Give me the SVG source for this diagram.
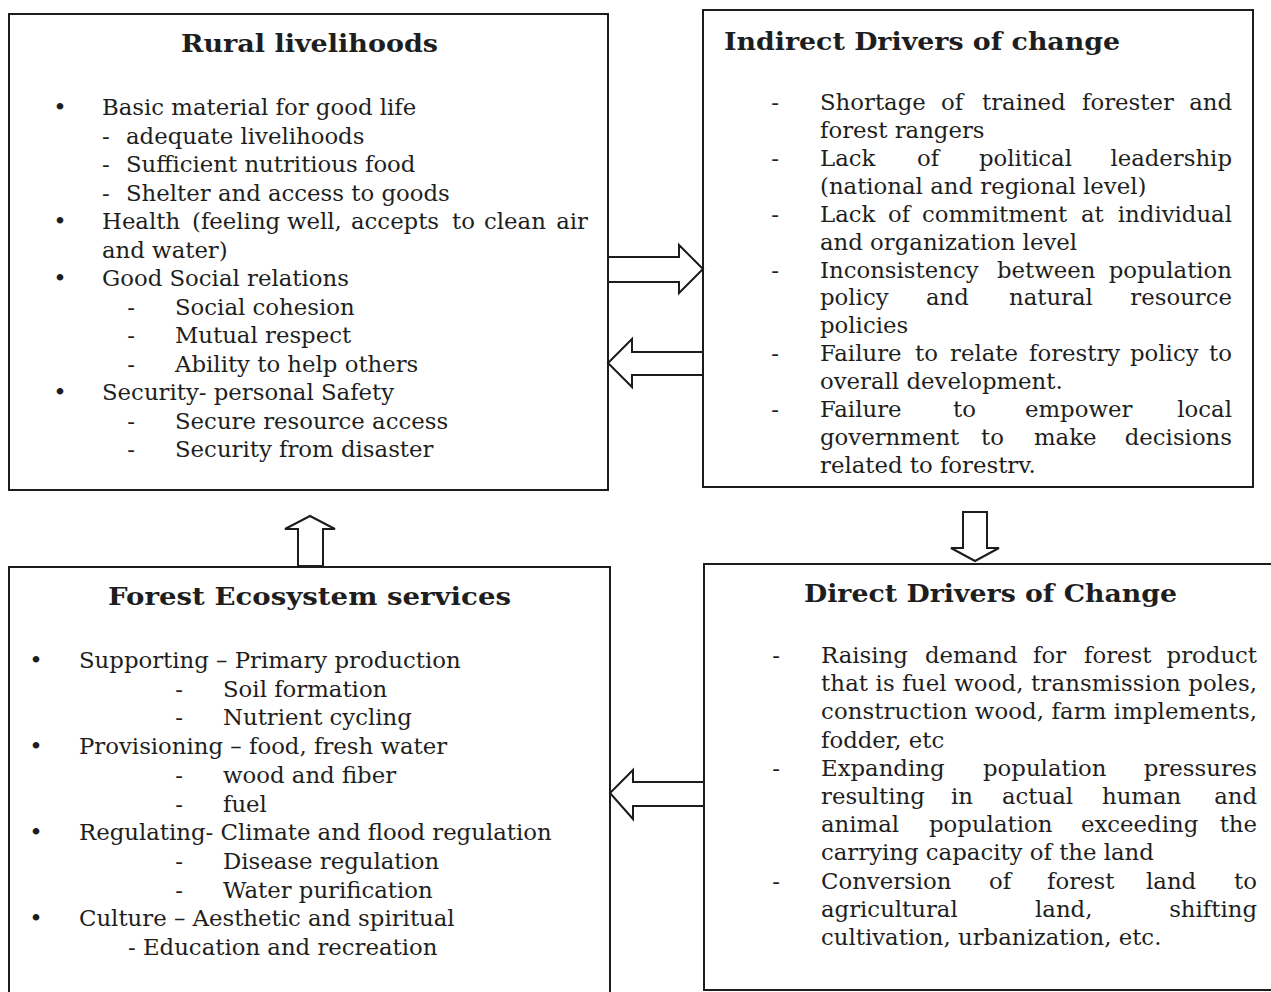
<svg xmlns="http://www.w3.org/2000/svg" width="1271" height="992" viewBox="0 0 1271 992">
<style>
.box{fill:#fff;stroke:#1c1c1c;stroke-width:2}
.arrow{fill:#fff;stroke:#1c1c1c;stroke-width:2;stroke-linejoin:miter}
text{font-family:"DejaVu Serif","Liberation Serif",serif;fill:#1e1e1e}
.t{font-size:22.8px}
.h{font-size:25px;font-weight:bold}
.m{text-anchor:middle}
.e{text-anchor:end}
</style>
<rect width="1271" height="992" fill="#fff"/>

<g id="rural-livelihoods">
<rect class="box" x="9" y="14" width="599" height="476"/>
<text class="h" x="181" y="52" textLength="257" lengthAdjust="spacingAndGlyphs">Rural livelihoods</text>
<text class="t m" x="60" y="115">•</text>
<text class="t" x="102" y="115">Basic material for good life</text>
<text class="t" x="102" y="143.5">-</text><text class="t" x="126" y="143.5">adequate livelihoods</text>
<text class="t" x="102" y="172">-</text><text class="t" x="126" y="172">Sufficient nutritious food</text>
<text class="t" x="102" y="200.5">-</text><text class="t" x="126" y="200.5">Shelter and access to goods</text>
<text class="t m" x="60" y="229">•</text>
<text class="t" y="229"><tspan x="102">Health</tspan><tspan x="192">(feeling</tspan><tspan x="287">well,</tspan><tspan x="351">accepts</tspan><tspan x="452">to</tspan><tspan x="484">clean</tspan></text>
<text class="t e" x="588" y="229">air</text>
<text class="t" x="102" y="257.5">and water)</text>
<text class="t m" x="60" y="286">•</text>
<text class="t" x="102" y="286">Good Social relations</text>
<text class="t m" x="131" y="314.5">-</text><text class="t" x="175" y="314.5">Social cohesion</text>
<text class="t m" x="131" y="343">-</text><text class="t" x="175" y="343">Mutual respect</text>
<text class="t m" x="131" y="371.5">-</text><text class="t" x="175" y="371.5">Ability to help others</text>
<text class="t m" x="60" y="400">•</text>
<text class="t" x="102" y="400">Security- personal Safety</text>
<text class="t m" x="131" y="428.5">-</text><text class="t" x="175" y="428.5">Secure resource access</text>
<text class="t m" x="131" y="457">-</text><text class="t" x="175" y="457">Security from disaster</text>
</g>

<g id="indirect-drivers">
<rect class="box" x="703" y="10" width="550" height="477"/>
<text class="h" x="724" y="50" textLength="396" lengthAdjust="spacingAndGlyphs">Indirect Drivers of change</text>
<text class="t m" x="775" y="110">-</text>
<text class="t" y="110"><tspan x="820">Shortage</tspan><tspan x="941">of</tspan><tspan x="982">trained</tspan><tspan x="1082">forester</tspan></text>
<text class="t e" x="1232" y="110">and</text>
<text class="t" x="820" y="137.9">forest rangers</text>
<text class="t m" x="775" y="165.8">-</text>
<text class="t" y="165.8"><tspan x="820">Lack</tspan><tspan x="917">of</tspan><tspan x="979">political</tspan></text>
<text class="t e" x="1232" y="165.8">leadership</text>
<text class="t" x="820" y="193.8">(national and regional level)</text>
<text class="t m" x="775" y="221.7">-</text>
<text class="t" y="221.7"><tspan x="820">Lack</tspan><tspan x="888">of</tspan><tspan x="922">commitment</tspan><tspan x="1081">at</tspan></text>
<text class="t e" x="1232" y="221.7">individual</text>
<text class="t" x="820" y="249.6">and organization level</text>
<text class="t m" x="775" y="277.5">-</text>
<text class="t" y="277.5"><tspan x="820">Inconsistency</tspan><tspan x="997">between</tspan></text>
<text class="t e" x="1232" y="277.5">population</text>
<text class="t" y="305.4"><tspan x="820">policy</tspan><tspan x="926">and</tspan><tspan x="1009">natural</tspan></text>
<text class="t e" x="1232" y="305.4">resource</text>
<text class="t" x="820" y="333.4">policies</text>
<text class="t m" x="775" y="361.3">-</text>
<text class="t" y="361.3"><tspan x="820">Failure</tspan><tspan x="915">to</tspan><tspan x="950">relate</tspan><tspan x="1029">forestry</tspan><tspan x="1130">policy</tspan></text>
<text class="t e" x="1232" y="361.3">to</text>
<text class="t" x="820" y="389.2">overall development.</text>
<text class="t m" x="775" y="417.1">-</text>
<text class="t" y="417.1"><tspan x="820">Failure</tspan><tspan x="953">to</tspan><tspan x="1025">empower</tspan></text>
<text class="t e" x="1232" y="417.1">local</text>
<text class="t" y="445"><tspan x="820">government</tspan><tspan x="981">to</tspan><tspan x="1034">make</tspan></text>
<text class="t e" x="1232" y="445">decisions</text>
<text class="t" x="820" y="473">related to forestrv.</text>
</g>

<g id="forest-ecosystem-services">
<rect class="box" x="9" y="567" width="601" height="432"/>
<text class="h" x="108" y="605" textLength="403" lengthAdjust="spacingAndGlyphs">Forest Ecosystem services</text>
<text class="t m" x="36" y="668">•</text>
<text class="t" x="79" y="668">Supporting – Primary production</text>
<text class="t m" x="179" y="696.7">-</text><text class="t" x="223" y="696.7">Soil formation</text>
<text class="t m" x="179" y="725.4">-</text><text class="t" x="223" y="725.4">Nutrient cycling</text>
<text class="t m" x="36" y="754.1">•</text>
<text class="t" x="79" y="754.1">Provisioning – food, fresh water</text>
<text class="t m" x="179" y="782.8">-</text><text class="t" x="223" y="782.8">wood and fiber</text>
<text class="t m" x="179" y="811.5">-</text><text class="t" x="223" y="811.5">fuel</text>
<text class="t m" x="36" y="840.2">•</text>
<text class="t" x="79" y="840.2">Regulating- Climate and flood regulation</text>
<text class="t m" x="179" y="868.9">-</text><text class="t" x="223" y="868.9">Disease regulation</text>
<text class="t m" x="179" y="897.6">-</text><text class="t" x="223" y="897.6">Water purification</text>
<text class="t m" x="36" y="926.3">•</text>
<text class="t" x="79" y="926.3">Culture – Aesthetic and spiritual</text>
<text class="t" x="128" y="955">- Education and recreation</text>
</g>

<g id="direct-drivers">
<rect class="box" x="704" y="564" width="580" height="426"/>
<text class="h" x="804" y="602" textLength="373" lengthAdjust="spacingAndGlyphs">Direct Drivers of Change</text>
<text class="t m" x="776" y="663">-</text>
<text class="t" y="663"><tspan x="821">Raising</tspan><tspan x="925">demand</tspan><tspan x="1033">for</tspan><tspan x="1084">forest</tspan></text>
<text class="t e" x="1257" y="663">product</text>
<text class="t" x="821" y="691.2" textLength="436" lengthAdjust="spacing">that is fuel wood, transmission poles,</text>
<text class="t" x="821" y="719.4" textLength="436" lengthAdjust="spacing">construction wood, farm implements,</text>
<text class="t" x="821" y="747.6">fodder, etc</text>
<text class="t m" x="776" y="775.8">-</text>
<text class="t" y="775.8"><tspan x="821">Expanding</tspan><tspan x="983">population</tspan></text>
<text class="t e" x="1257" y="775.8">pressures</text>
<text class="t" y="804"><tspan x="821">resulting</tspan><tspan x="951">in</tspan><tspan x="1002">actual</tspan><tspan x="1102">human</tspan></text>
<text class="t e" x="1257" y="804">and</text>
<text class="t" y="832.2"><tspan x="821">animal</tspan><tspan x="929">population</tspan><tspan x="1081">exceeding</tspan></text>
<text class="t e" x="1257" y="832.2">the</text>
<text class="t" x="821" y="860.4">carrying capacity of the land</text>
<text class="t m" x="776" y="888.6">-</text>
<text class="t" y="888.6"><tspan x="821">Conversion</tspan><tspan x="989">of</tspan><tspan x="1047">forest</tspan><tspan x="1146">land</tspan></text>
<text class="t e" x="1257" y="888.6">to</text>
<text class="t" y="916.8"><tspan x="821">agricultural</tspan><tspan x="1035">land,</tspan></text>
<text class="t e" x="1257" y="916.8">shifting</text>
<text class="t" x="821" y="945">cultivation, urbanization, etc.</text>
</g>

<g id="connectors">
<polygon class="arrow" points="608,257 679,257 679,245 703,269 679,293 679,282 608,282"/>
<polygon class="arrow" points="703,352 632,352 632,339 608,363 632,387 632,375 703,375"/>
<polygon class="arrow" points="298,566 298,529 285,529 310,516 335,529 323,529 323,566"/>
<polygon class="arrow" points="963,512 987,512 987,548 999,548 975,561 951,548 963,548"/>
<polygon class="arrow" points="704,782 633,782 633,770 610,793 633,819 633,806 704,806"/>
</g>
</svg>
